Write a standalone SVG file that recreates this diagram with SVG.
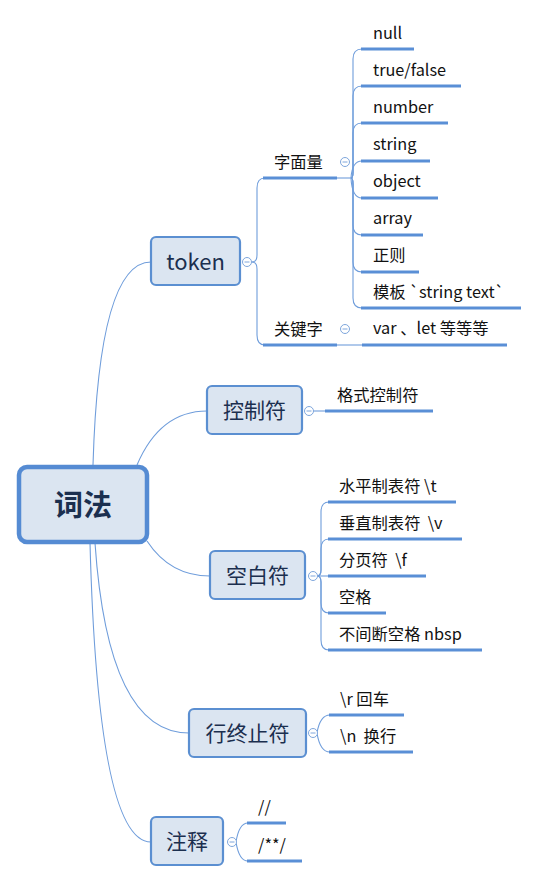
<svg xmlns="http://www.w3.org/2000/svg" width="539" height="882" viewBox="0 0 539 882">
<defs>
<style>
.node rect{fill:#dbe5f1;stroke:#5b8fd1;stroke-width:2.2}
.root rect{fill:#dbe5f1;stroke:#558bd3;stroke-width:4.5}
.nt{font-family:"Noto Sans CJK SC","Microsoft YaHei",sans-serif;fill:#1b2f4f;text-anchor:middle}
.lt{font-family:"Noto Sans CJK SC","Microsoft YaHei",sans-serif;font-size:16.3px;fill:#111}
.ul{stroke:#5a8fd6;stroke-width:3;fill:none}
.cn{stroke:#6f9ddb;stroke-width:1.1;fill:none}
.tg circle{fill:#fff;stroke:#7ea6dc;stroke-width:1}
.tg line{stroke:#7ea6dc;stroke-width:1}
</style>
</defs>
<rect width="539" height="882" fill="#fff"/>
<g id="connectors">
<path class="cn" d="M93 465 Q99 262 151 262"/>
<path class="cn" d="M137 465 Q160 411 207 411"/>
<path class="cn" d="M147 541 Q170 576 210 576"/>
<path class="cn" d="M95 543 Q108 733 189 733"/>
<path class="cn" d="M90 543 Q98 842 151 842"/>
<path class="cn" d="M252 262 Q257 262 257 255 L257 188 Q257 178 265 178"/>
<path class="cn" d="M252 262 Q257 262 257 269 L257 335 Q257 345 265 345"/>
<path class="cn" d="M337 178 L351 178"/>
<path class="cn" d="M337 345 L362 345"/>
<path class="cn" d="M351 178 Q353 178 353 172 L353 59 Q353 49 362 49"/>
<path class="cn" d="M351 178 Q353 178 353 172 L353 96 Q353 86 362 86"/>
<path class="cn" d="M351 178 Q353 178 353 172 L353 133 Q353 123 362 123"/>
<path class="cn" d="M351 178 Q352 161 362 161"/>
<path class="cn" d="M351 178 Q352 198 362 198"/>
<path class="cn" d="M351 178 Q353 178 353 184 L353 225 Q353 235 362 235"/>
<path class="cn" d="M351 178 Q353 178 353 184 L353 262 Q353 272 362 272"/>
<path class="cn" d="M351 178 Q353 178 353 184 L353 298 Q353 308 362 308"/>
<path class="cn" d="M313 411 L325 411"/>
<path class="cn" d="M317 576 Q321 576 321 570 L321 512 Q321 502 329 502"/>
<path class="cn" d="M317 576 Q321 576 321 570 L321 549 Q321 539 329 539"/>
<path class="cn" d="M317 576 L329 576"/>
<path class="cn" d="M317 576 Q321 576 321 582 L321 603 Q321 613 329 613"/>
<path class="cn" d="M317 576 Q321 576 321 582 L321 640 Q321 650 329 650"/>
<path class="cn" d="M317 733 Q320 715 330 715"/>
<path class="cn" d="M317 733 Q320 752 330 752"/>
<path class="cn" d="M236 842 Q239 823 248 823"/>
<path class="cn" d="M236 842 Q239 861 248 861"/>
</g>
<g id="root" class="root">
<rect x="19" y="467" width="128" height="75" rx="8"/>
<text class="nt" x="83" y="516" font-size="29" font-weight="bold" fill="#2c4a78">词法</text>
</g>
<g id="token" class="node">
<rect x="151" y="237" width="89" height="48" rx="5"/>
<text class="nt" x="195.5" y="270" font-size="22">token</text>
<g class="tg"><circle cx="247" cy="262" r="4.5"/><line x1="244.5" y1="262" x2="249.5" y2="262"/></g>
</g>
<g id="literal">
<text class="lt" x="274" y="168">字面量</text>
<path class="ul" d="M263 178 L337 178"/>
<g class="tg"><circle cx="345" cy="162" r="4.5"/><line x1="342.5" y1="162" x2="347.5" y2="162"/></g>
</g>
<g id="keyword">
<text class="lt" x="274" y="335">关键字</text>
<path class="ul" d="M263 345 L337 345"/>
<g class="tg"><circle cx="345" cy="329" r="4.5"/><line x1="342.5" y1="329" x2="347.5" y2="329"/></g>
</g>
<g id="leaf-null"><text class="lt" x="373" y="39">null</text><path class="ul" d="M361 49 L414 49"/></g>
<g id="leaf-bool"><text class="lt" x="373" y="76">true/false</text><path class="ul" d="M361 86 L461 86"/></g>
<g id="leaf-number"><text class="lt" x="373" y="113">number</text><path class="ul" d="M361 123 L448 123"/></g>
<g id="leaf-string"><text class="lt" x="373" y="150">string</text><path class="ul" d="M361 161 L430 161"/></g>
<g id="leaf-object"><text class="lt" x="373" y="187">object</text><path class="ul" d="M361 198 L438 198"/></g>
<g id="leaf-array"><text class="lt" x="373" y="224">array</text><path class="ul" d="M361 235 L423 235"/></g>
<g id="leaf-regex"><text class="lt" x="373" y="261">正则</text><path class="ul" d="M361 272 L419 272"/></g>
<g id="leaf-template"><text class="lt" x="373" y="298" xml:space="preserve">模板 `string text`</text><path class="ul" d="M361 308 L521 308"/></g>
<g id="leaf-var"><text class="lt" x="373" y="334">var 、let 等等等</text><path class="ul" d="M362 345 L507 345"/></g>
<g id="control" class="node">
<rect x="207" y="386" width="95" height="48" rx="5"/>
<text class="nt" x="254.5" y="418" font-size="21">控制符</text>
<g class="tg"><circle cx="309" cy="411" r="4.5"/><line x1="306.5" y1="411" x2="311.5" y2="411"/></g>
</g>
<g id="leaf-format"><text class="lt" x="337" y="401">格式控制符</text><path class="ul" d="M325 411 L433 411"/></g>
<g id="whitespace" class="node">
<rect x="210" y="551" width="95" height="48" rx="5"/>
<text class="nt" x="257.5" y="583" font-size="21">空白符</text>
<g class="tg"><circle cx="313" cy="576" r="4.5"/><line x1="310.5" y1="576" x2="315.5" y2="576"/></g>
</g>
<g id="leaf-tab"><text class="lt" x="339" y="492" xml:space="preserve">水平制表符 \t</text><path class="ul" d="M328 502 L456 502"/></g>
<g id="leaf-vtab"><text class="lt" x="339" y="529" xml:space="preserve">垂直制表符  \v</text><path class="ul" d="M328 539 L462 539"/></g>
<g id="leaf-ff"><text class="lt" x="339" y="566" xml:space="preserve">分页符  \f</text><path class="ul" d="M328 576 L426 576"/></g>
<g id="leaf-space"><text class="lt" x="339" y="603">空格</text><path class="ul" d="M328 613 L386 613"/></g>
<g id="leaf-nbsp"><text class="lt" x="339" y="640">不间断空格 nbsp</text><path class="ul" d="M328 650 L482 650"/></g>
<g id="lineterm" class="node">
<rect x="189" y="709" width="117" height="48" rx="5"/>
<text class="nt" x="247.5" y="741" font-size="21">行终止符</text>
<g class="tg"><circle cx="313" cy="733" r="4.5"/><line x1="310.5" y1="733" x2="315.5" y2="733"/></g>
</g>
<g id="leaf-cr"><text class="lt" x="340" y="705">\r 回车</text><path class="ul" d="M329 715 L404 715"/></g>
<g id="leaf-lf"><text class="lt" x="340" y="742" xml:space="preserve">\n  换行</text><path class="ul" d="M329 752 L413 752"/></g>
<g id="comment" class="node">
<rect x="151" y="817" width="72" height="48" rx="5"/>
<text class="nt" x="187" y="849" font-size="21">注释</text>
<g class="tg"><circle cx="232" cy="842" r="4.5"/><line x1="229.5" y1="842" x2="234.5" y2="842"/></g>
</g>
<g id="leaf-line-comment"><text class="lt" x="258" y="813">//</text><path class="ul" d="M247 823 L286 823"/></g>
<g id="leaf-block-comment"><text class="lt" x="258" y="851">/**/</text><path class="ul" d="M247 861 L302 861"/></g>
</svg>
